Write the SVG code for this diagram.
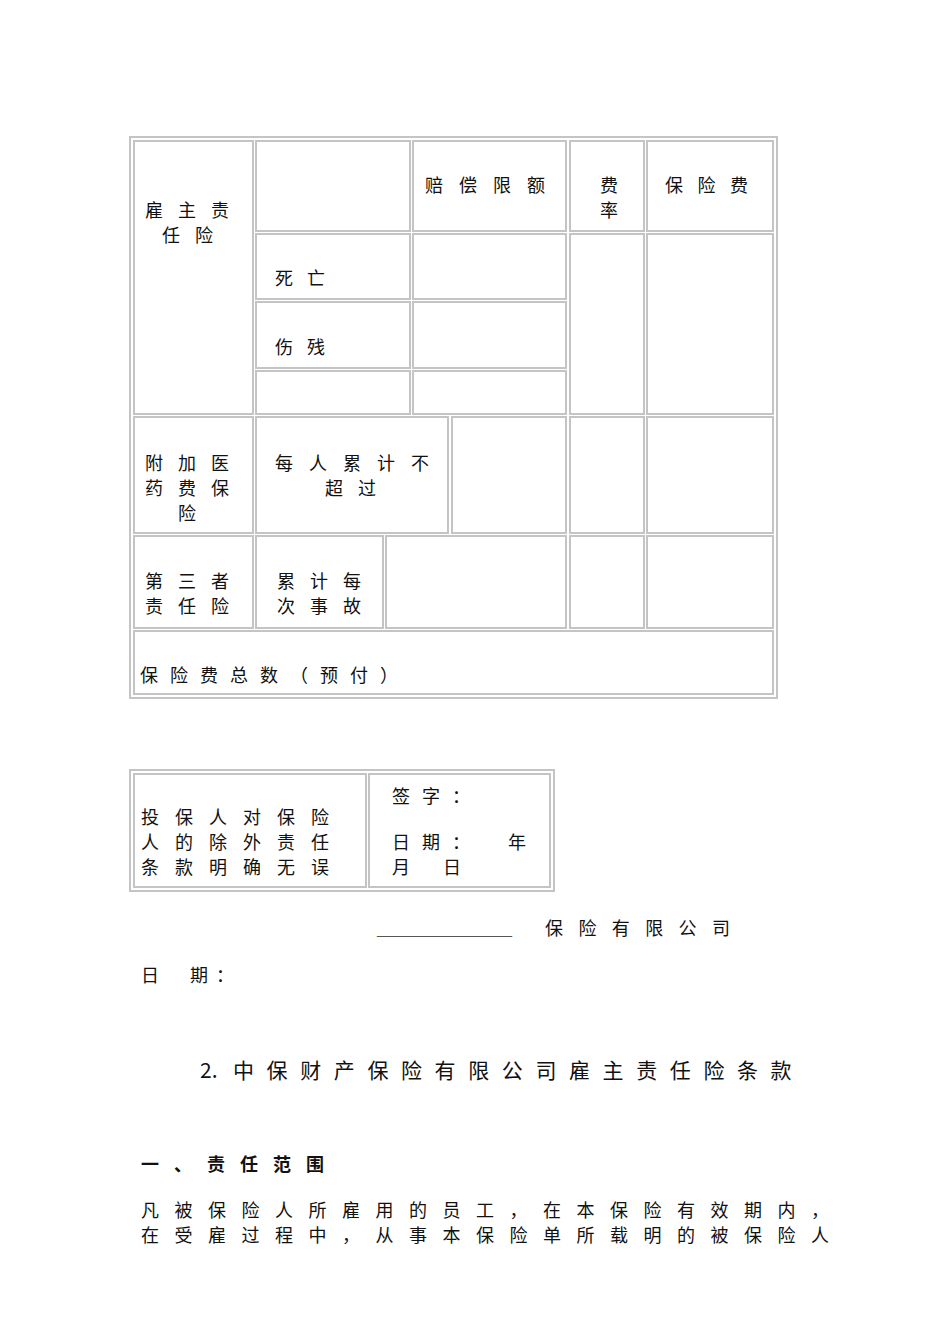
<svg xmlns="http://www.w3.org/2000/svg" width="950" height="1344" viewBox="0 0 950 1344">
<style>
rect{fill:none;stroke:#c4c4c4;stroke-width:2}
text{font-family:"Noto Sans CJK SC","Liberation Serif",serif;font-size:18px;fill:#111}
.s33{letter-spacing:15px}
.s34{letter-spacing:16px}
</style>
<rect width="950" height="1344" fill="#fff" style="fill:#fff;stroke:none"/>
<g id="table1">
<rect x="130" y="137" width="647" height="561"/>
<rect x="134" y="141" width="119" height="273"/>
<rect x="256" y="141" width="154" height="90"/>
<rect x="413" y="141" width="153" height="90"/>
<rect x="570" y="141" width="74" height="90"/>
<rect x="647" y="141" width="126" height="90"/>
<rect x="256" y="234" width="154" height="65"/>
<rect x="413" y="234" width="153" height="65"/>
<rect x="256" y="302" width="154" height="66"/>
<rect x="413" y="302" width="153" height="66"/>
<rect x="256" y="371" width="154" height="43"/>
<rect x="413" y="371" width="153" height="43"/>
<rect x="570" y="234" width="74" height="180"/>
<rect x="647" y="234" width="126" height="180"/>
<rect x="134" y="417" width="119" height="116"/>
<rect x="256" y="417" width="192" height="116"/>
<rect x="452" y="417" width="114" height="116"/>
<rect x="570" y="417" width="74" height="116"/>
<rect x="647" y="417" width="126" height="116"/>
<rect x="134" y="536" width="119" height="92"/>
<rect x="256" y="536" width="127" height="92"/>
<rect x="386" y="536" width="180" height="92"/>
<rect x="570" y="536" width="74" height="92"/>
<rect x="647" y="536" width="126" height="92"/>
<rect x="134" y="631" width="639" height="63"/>
<text x="145" y="217" class="s33">雇主责</text>
<text x="162" y="242" class="s33">任险</text>
<text x="425" y="192" class="s34">赔偿限额</text>
<text x="600" y="192">费</text>
<text x="600" y="217">率</text>
<text x="665" y="192" style="letter-spacing:14.5px">保险费</text>
<text x="275" y="285" style="letter-spacing:14px">死亡</text>
<text x="275" y="354" style="letter-spacing:14px">伤残</text>
<text x="145" y="470" class="s33">附加医</text>
<text x="145" y="495" class="s33">药费保</text>
<text x="178" y="520">险</text>
<text x="275" y="470" class="s34">每人累计不</text>
<text x="325" y="495" class="s33">超过</text>
<text x="145" y="588" class="s33">第三者</text>
<text x="145" y="613" class="s33">责任险</text>
<text x="277" y="588" class="s33">累计每</text>
<text x="277" y="613" class="s33">次事故</text>
<text x="140" y="682" style="letter-spacing:12px">保险费总数（预付）</text>
</g>
<g id="table2">
<rect x="130" y="770" width="424" height="121"/>
<rect x="134" y="774" width="232" height="113"/>
<rect x="369" y="774" width="181" height="113"/>
<text x="141" y="824" class="s34">投保人对保险</text>
<text x="141" y="849" class="s34">人的除外责任</text>
<text x="141" y="874" class="s34">条款明确无误</text>
<text x="392" y="803" style="letter-spacing:12px">签字：</text>
<text x="392" y="849" style="letter-spacing:12px">日期：</text>
<text x="508" y="849">年</text>
<text x="392" y="874">月</text>
<text x="443" y="874">日</text>
</g>
<text x="377" y="935" style="font-family:'Liberation Serif',serif;fill:#555">_______________</text>
<text x="545" y="935" style="letter-spacing:15.4px">保险有限公司</text>
<text x="141" y="982">日</text>
<text x="190" y="982">期</text>
<text x="216" y="982">：</text>
<text x="200" y="1078" style="font-size:21px">2.</text>
<text x="233" y="1078" style="font-size:21px;letter-spacing:12.6px">中保财产保险有限公司雇主责任险条款</text>
<text x="141" y="1171" style="font-weight:bold;letter-spacing:15px">一、责任范围</text>
<text x="141" y="1217" style="letter-spacing:15.5px">凡被保险人所雇用的员工，在本保险有效期内，</text>
<text x="141" y="1242" style="letter-spacing:15.5px">在受雇过程中，从事本保险单所载明的被保险人</text>
</svg>
